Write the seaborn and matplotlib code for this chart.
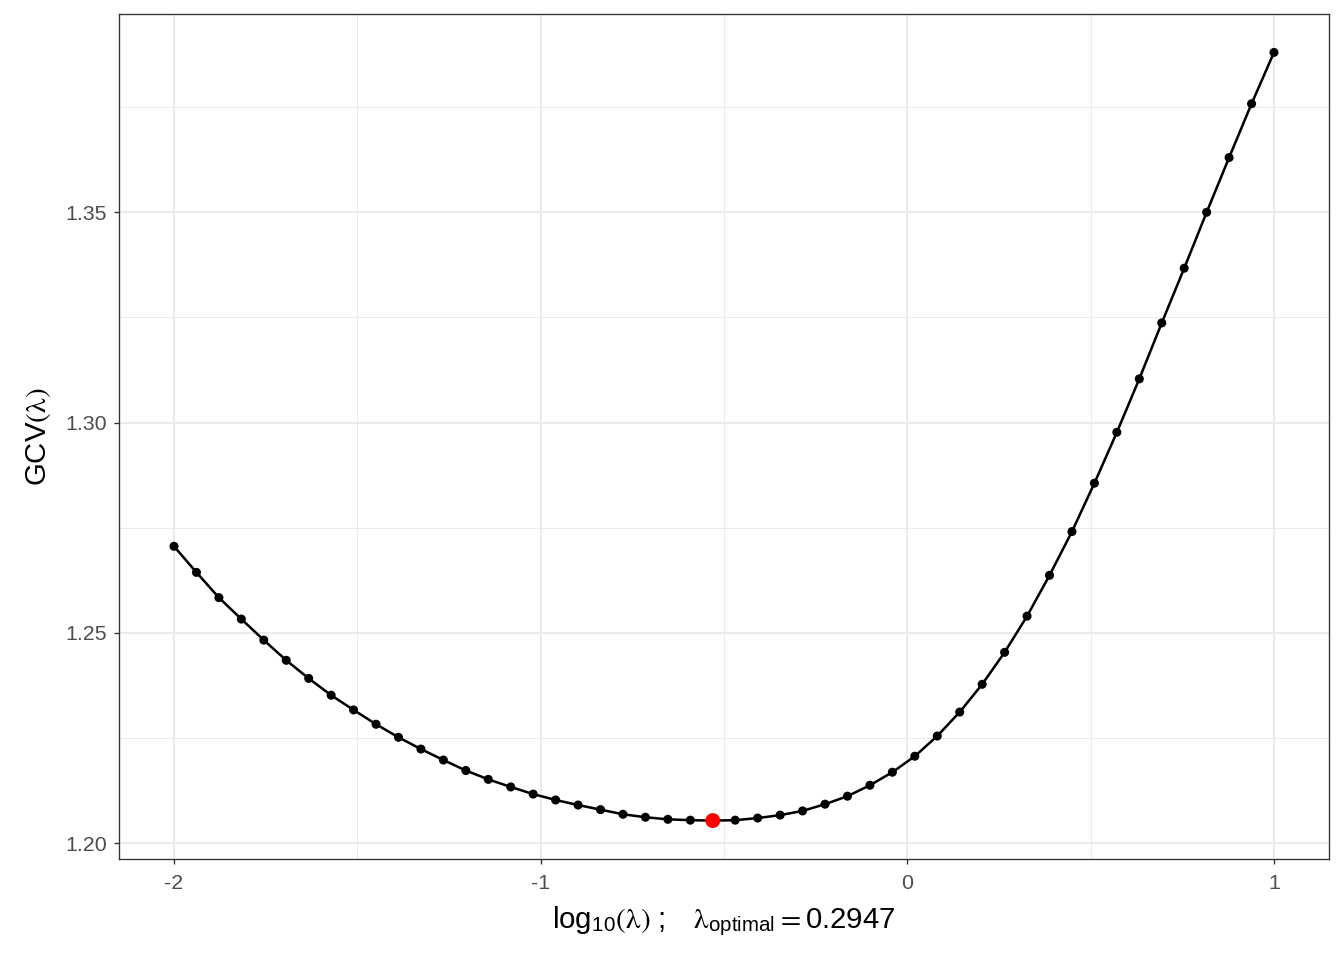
import numpy as np
import pandas as pd
import matplotlib
matplotlib.use("Agg")
import matplotlib.pyplot as plt
import seaborn as sns

# log10(lambda) grid and GCV values
log_lambda = np.linspace(-2, 1, 50)
gcv = [1.2706, 1.2644, 1.2584, 1.2533, 1.2483, 1.2435, 1.2392, 1.2352, 1.2317, 1.2283,
       1.2252, 1.2224, 1.2198, 1.2173, 1.2152, 1.2134, 1.2117, 1.2103, 1.2091, 1.2080,
       1.2069, 1.2062, 1.2057, 1.2055, 1.2054, 1.2055, 1.2060, 1.2067, 1.2077, 1.2093,
       1.2112, 1.2138, 1.2169, 1.2207, 1.2255, 1.2312, 1.2378, 1.2454, 1.2540, 1.2637,
       1.2741, 1.2856, 1.2977, 1.3104, 1.3237, 1.3367, 1.3500, 1.3630, 1.3758, 1.3880]
lambda_opt = 0.2947

df = pd.DataFrame({"loglam": log_lambda, "gcv": gcv})
opt = df.iloc[[int(np.argmin(df["gcv"]))]]

sns.set_theme(style="white")
plt.rcParams["font.family"] = ["Liberation Sans", "DejaVu Sans"]
# sans for words/numbers, serif for lambda and brackets (like R plotmath)
plt.rcParams["mathtext.fontset"] = "custom"
plt.rcParams["mathtext.rm"] = "STIXGeneral"
plt.rcParams["mathtext.sf"] = "Liberation Sans"
plt.rcParams["mathtext.it"] = "STIXGeneral"
plt.rcParams["mathtext.default"] = "rm"

fig = plt.figure(figsize=(14, 10), dpi=96)
ax = fig.add_axes([119 / 1344, 101 / 960, 1210 / 1344, 845 / 960])

sns.lineplot(data=df, x="loglam", y="gcv", color="black", linewidth=1.9, ax=ax, zorder=3)
sns.scatterplot(data=df, x="loglam", y="gcv", color="black", s=46, edgecolor="none", ax=ax, zorder=4)
sns.scatterplot(data=opt, x="loglam", y="gcv", color="red", s=125, edgecolor="none", ax=ax, zorder=5)

# ggplot-like 5% expansion
xr = df["loglam"].max() - df["loglam"].min()
yr = df["gcv"].max() - df["gcv"].min()
ax.set_xlim(df["loglam"].min() - 0.05 * xr, df["loglam"].max() + 0.05 * xr)
ax.set_ylim(df["gcv"].min() - 0.05 * yr, df["gcv"].max() + 0.05 * yr)

ax.set_xticks([-2, -1, 0, 1])
ax.set_xticklabels(["-2", "-1", "0", "1"])
ax.set_xticks([-1.5, -0.5, 0.5], minor=True)
ax.set_yticks([1.20, 1.25, 1.30, 1.35])
ax.set_yticklabels(["1.20", "1.25", "1.30", "1.35"])
ax.set_yticks([1.225, 1.275, 1.325, 1.375], minor=True)

ax.grid(True, which="major", color="#EBEBEB", linewidth=1.5)
ax.grid(True, which="minor", color="#EBEBEB", linewidth=0.75)
ax.set_axisbelow(True)

for sp in ax.spines.values():
    sp.set_color("#333333")
    sp.set_linewidth(1.0)

ax.tick_params(axis="x", which="major", pad=7)
ax.tick_params(axis="y", which="major", pad=5)
ax.tick_params(axis="both", which="major", length=4, width=1, color="#333333",
               labelsize=16, labelcolor="#4D4D4D", bottom=True, left=True)
ax.tick_params(axis="both", which="minor", length=0)

ax.set_xlabel(r"$\mathsf{log}_{\mathsf{10}}(\lambda)\ \mathsf{;}\quad\lambda_{\mathsf{optimal}} = \mathsf{0.2947}$",
              fontsize=22, color="black", labelpad=9)
ax.set_ylabel(r"$\mathsf{GCV}(\lambda)$", fontsize=22, color="black", labelpad=9)

fig.savefig("out.png", dpi=96)
